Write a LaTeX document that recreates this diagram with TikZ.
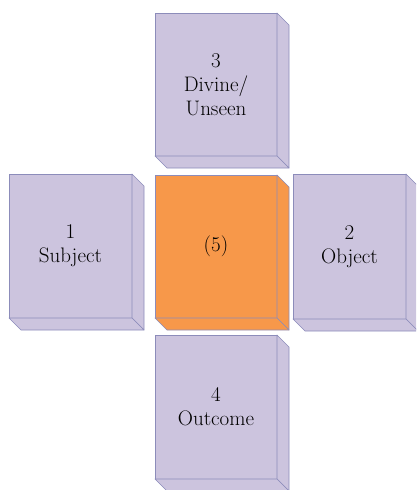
\documentclass[tikz,border=0pt]{standalone}
\usepackage{tikz}

\begin{document}
\begin{tikzpicture}[
  x=1pt, y=-1pt,
  block/.style={draw=edge, line width=0.6pt, fill=lav, inner sep=0pt, outer sep=0pt,
    align=center, font=\fontsize{21}{24}\selectfont, anchor=north west},
  side/.style={draw=edge, line width=0.6pt, fill=lav, line join=round},
  hot/.style={fill=hot},
]
\definecolor{lav}{RGB}{204,196,222}
\definecolor{edge}{RGB}{140,140,186}
\definecolor{hot}{RGB}{247,152,74}

\useasboundingbox (0,0) rectangle (416,490);
\clip (0,0) rectangle (416,490);

% front faces
\node [block, minimum width=122pt, minimum height=143pt] (top) at (155,13) {3\\Divine/\\Unseen};
\node [block, minimum width=123pt, minimum height=144pt] (left) at (9,174) {1\\Subject};
\node [block, hot, minimum width=122pt, minimum height=143pt] (mid) at (155,175) {(5)};
\node [block, minimum width=113pt, minimum height=145pt] (right) at (293,174) {2\\Object};
\node [block, minimum width=122pt, minimum height=144pt] (bot) at (155,335) {4\\Outcome};

% depth faces
\foreach \b/\w/\h/\c in {top/122/143/lav, left/123/144/lav, mid/122/143/hot, right/113/145/lav, bot/122/144/lav} {
  \filldraw [side, fill=\c] (\b.north east) -- ++(12,12) -- ++(0,\h) -- (\b.south east) -- cycle;
  \filldraw [side, fill=\c] (\b.south west) -- ++(12,12) -- ++(\w,0) -- (\b.south east) -- cycle;
}

\end{tikzpicture}
\end{document}
